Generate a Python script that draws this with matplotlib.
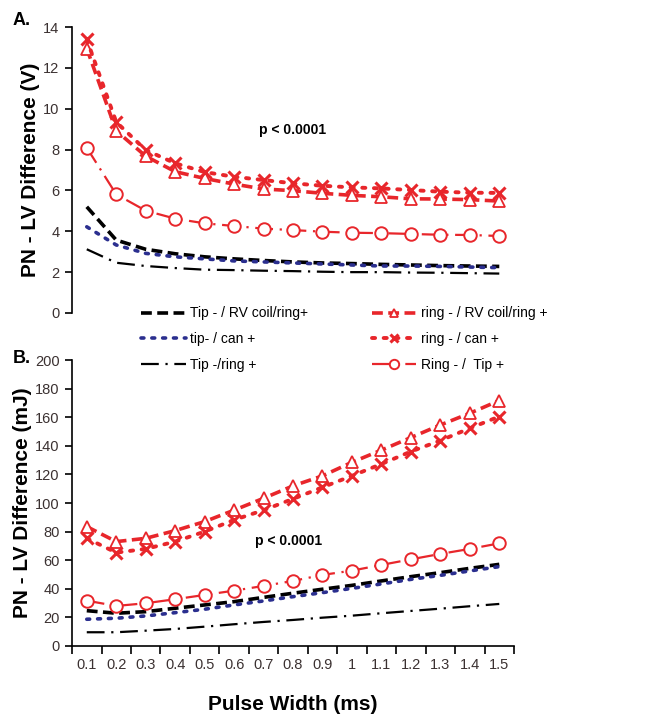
import numpy as np
import matplotlib
matplotlib.use("Agg")
import matplotlib.pyplot as plt
from matplotlib.lines import Line2D

plt.rcParams['font.family'] = ['Liberation Sans Narrow', 'Liberation Sans', 'DejaVu Sans']

pulse_width = ['0.1', '0.2', '0.3', '0.4', '0.5', '0.6', '0.7', '0.8',
               '0.9', '1', '1.1', '1.2', '1.3', '1.4', '1.5']

# Panel A: voltage difference (V)
v_tip_rvcoil = [5.2, 3.57, 3.12, 2.9, 2.75, 2.65, 2.57, 2.5, 2.45, 2.42, 2.38, 2.35, 2.32, 2.3, 2.28]
v_tip_can = [4.22, 3.33, 2.92, 2.75, 2.65, 2.55, 2.5, 2.45, 2.4, 2.35, 2.3, 2.3, 2.28, 2.25, 2.22]
v_tip_ring = [3.12, 2.46, 2.3, 2.2, 2.12, 2.1, 2.07, 2.05, 2.02, 2.0, 2.0, 1.98, 1.97, 1.95, 1.93]
v_ring_rvcoil = [12.95, 8.92, 7.68, 6.92, 6.59, 6.31, 6.07, 5.99, 5.86, 5.76, 5.69, 5.59, 5.58, 5.55, 5.48]
v_ring_can = [13.4, 9.35, 7.98, 7.33, 6.9, 6.67, 6.51, 6.35, 6.23, 6.15, 6.1, 6.02, 5.94, 5.89, 5.88]
v_ring_tip = [8.09, 5.81, 5.01, 4.62, 4.39, 4.26, 4.13, 4.06, 3.98, 3.93, 3.91, 3.87, 3.83, 3.82, 3.77]

# Panel B: energy difference (mJ)
e_tip_rvcoil = [24.7, 22.9, 24.0, 26.4, 28.7, 31.0, 34.0, 36.9, 39.7, 42.4, 45.5, 48.5, 51.3, 54.3, 57.1]
e_tip_can = [18.7, 19.4, 21.0, 23.3, 25.7, 28.7, 31.5, 34.5, 37.3, 40.3, 43.4, 46.6, 49.4, 52.5, 55.5]
e_tip_ring = [9.6, 9.6, 10.7, 11.9, 13.5, 15.2, 16.8, 18.2, 19.8, 21.2, 22.9, 24.5, 26.1, 27.8, 29.4]
e_ring_rvcoil = [83.5, 73.0, 75.3, 80.7, 87.0, 95.0, 103.3, 112.0, 119.0, 128.5, 137.0, 145.8, 154.6, 162.8, 171.7]
e_ring_can = [75.3, 65.3, 67.9, 73.0, 80.0, 88.2, 95.0, 102.9, 111.0, 119.0, 127.3, 136.0, 143.7, 152.3, 160.5]
e_ring_tip = [31.7, 28.0, 29.9, 32.7, 35.7, 38.7, 42.0, 45.5, 49.7, 52.7, 56.7, 60.6, 64.4, 67.9, 71.8]

labels = ['Tip - / RV coil/ring+', 'tip- / can +', 'Tip -/ring +',
          'ring - / RV coil/ring +', 'ring - / can +', 'Ring - /  Tip +']

RED = '#e8262b'
NAVY = '#2b2f8f'
TICK_COLOR = '#3b3131'
BOLD = ['Liberation Sans', 'DejaVu Sans']

styles = [
    dict(color='black', linestyle=(0, (3, 1.5)), linewidth=2.6),
    dict(color=NAVY, linestyle=(0, (0.8, 2.2)), linewidth=2.6, dash_capstyle='round'),
    dict(color='black', linestyle=(0, (8, 3, 1, 3)), linewidth=1.6),
    dict(color=RED, linestyle=(0, (3, 1.5)), linewidth=2.6, marker='^', markersize=8,
         markerfacecolor='white', markeredgewidth=1.3),
    dict(color=RED, linestyle=(0, (0.8, 2.2)), linewidth=2.8, dash_capstyle='round',
         marker='x', markersize=8, markeredgewidth=2.2),
    dict(color=RED, linestyle=(0, (8, 3, 1, 3)), linewidth=1.6, marker='o', markersize=9,
         markerfacecolor='white', markeredgewidth=1.4),
]

x = np.arange(1, len(pulse_width) + 1)

fig = plt.figure(figsize=(6.49, 7.22), dpi=100)
ax_a = fig.add_axes([0.111, 0.5665, 0.681, 0.396])
ax_b = fig.add_axes([0.111, 0.1053, 0.681, 0.396])

series_a = [v_tip_rvcoil, v_tip_can, v_tip_ring, v_ring_rvcoil, v_ring_can, v_ring_tip]
series_b = [e_tip_rvcoil, e_tip_can, e_tip_ring, e_ring_rvcoil, e_ring_can, e_ring_tip]

for ax, series in ((ax_a, series_a), (ax_b, series_b)):
    for vals, st in zip(series, styles):
        ax.plot(x, vals, **st)
    ax.set_xlim(0.5, 15.5)
    for side in ('top', 'right'):
        ax.spines[side].set_visible(False)
    ax.spines['left'].set_linewidth(1.2)
    ax.tick_params(axis='y', direction='out', length=5, width=1.2,
                   labelsize=10.5, labelcolor=TICK_COLOR, pad=4)

# panel A
ax_a.set_ylim(0, 14)
ax_a.set_yticks(np.arange(0, 15, 2))
ax_a.spines['bottom'].set_visible(False)
ax_a.set_xticks([])
ax_a.set_ylabel('PN - LV Difference (V)', fontsize=15, fontweight='bold',
                family=BOLD, labelpad=2)
ax_a.text(0.5, 0.64, 'p < 0.0001', transform=ax_a.transAxes, ha='center', va='center',
          fontsize=10, fontweight='bold', family=BOLD)

# panel B
ax_b.set_ylim(0, 200)
ax_b.set_yticks(np.arange(0, 201, 20))
ax_b.spines['bottom'].set_linewidth(1.2)
ax_b.set_xticks(x)
ax_b.set_xticklabels(pulse_width)
ax_b.set_xticks(np.arange(0.5, 16, 1), minor=True)
ax_b.tick_params(axis='x', which='major', length=0, labelsize=10.5,
                 labelcolor=TICK_COLOR, pad=9)
ax_b.tick_params(axis='x', which='minor', direction='out', length=6, width=1.2)
ax_b.set_ylabel('PN - LV Difference (mJ)', fontsize=15, fontweight='bold',
                family=BOLD, labelpad=2)
ax_b.set_xlabel('Pulse Width (ms)', fontsize=15, fontweight='bold',
                family=BOLD, labelpad=16)
ax_b.text(0.49, 0.367, 'p < 0.0001', transform=ax_b.transAxes, ha='center', va='center',
          fontsize=10, fontweight='bold', family=BOLD)

fig.text(0.02, 0.965, 'A.', fontsize=13, fontweight='bold', family=BOLD)
fig.text(0.02, 0.497, 'B.', fontsize=13, fontweight='bold', family=BOLD)

handles = [Line2D([], [], **st) for st in styles]
for h in handles:
    h.set_markersize(h.get_markersize() * 0.75)
fig.legend(handles, labels, ncol=2, loc='upper left', bbox_to_anchor=(0.218, 0.5755),
           frameon=False, fontsize=10, handlelength=3.2, handletextpad=0.3,
           columnspacing=4.6, labelspacing=0.84, borderpad=0, borderaxespad=0)

fig.savefig('out.png', dpi=100, facecolor='white')
